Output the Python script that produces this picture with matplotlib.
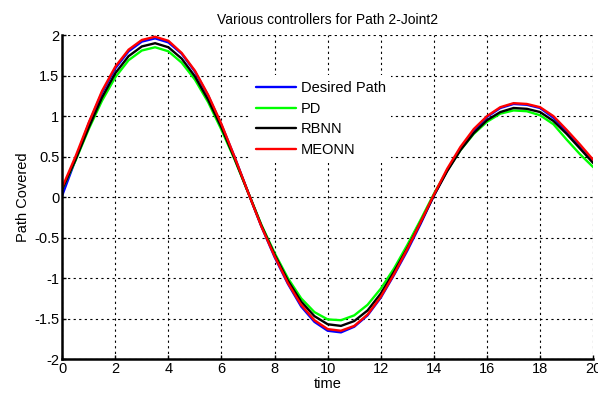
import numpy as np
import matplotlib.pyplot as plt

plt.rcParams['font.family'] = ['Liberation Sans', 'DejaVu Sans']

# time samples (s)
t = np.arange(0, 20.5, 0.5)

desired = [0.02, 0.46, 0.91, 1.29, 1.59, 1.80, 1.92, 1.96, 1.91, 1.77,
           1.55, 1.25, 0.89, 0.49, 0.06, -0.36, -0.74, -1.07, -1.35, -1.54,
           -1.65, -1.67, -1.60, -1.46, -1.24, -0.96, -0.66, -0.33, 0.02, 0.33,
           0.60, 0.82, 0.99, 1.10, 1.15, 1.14, 1.10, 0.98, 0.81, 0.63, 0.44]

pd_ctrl = [0.10, 0.45, 0.84, 1.19, 1.48, 1.69, 1.81, 1.85, 1.80, 1.66,
           1.45, 1.17, 0.83, 0.46, 0.06, -0.34, -0.69, -1.00, -1.25, -1.42,
           -1.51, -1.52, -1.46, -1.33, -1.13, -0.88, -0.59, -0.28, 0.04, 0.33,
           0.58, 0.78, 0.93, 1.03, 1.07, 1.06, 1.01, 0.90, 0.71, 0.53, 0.37]

rbnn = [0.10, 0.46, 0.86, 1.23, 1.53, 1.74, 1.86, 1.90, 1.85, 1.71,
        1.49, 1.20, 0.86, 0.47, 0.06, -0.35, -0.71, -1.03, -1.29, -1.47,
        -1.57, -1.59, -1.53, -1.40, -1.19, -0.92, -0.63, -0.31, 0.02, 0.32,
        0.58, 0.79, 0.95, 1.05, 1.10, 1.09, 1.05, 0.94, 0.78, 0.60, 0.42]

meonn = [0.12, 0.50, 0.92, 1.31, 1.61, 1.82, 1.94, 1.98, 1.93, 1.78,
         1.56, 1.26, 0.90, 0.49, 0.06, -0.36, -0.73, -1.06, -1.33, -1.52,
         -1.63, -1.65, -1.59, -1.45, -1.23, -0.95, -0.64, -0.31, 0.03, 0.35,
         0.62, 0.84, 1.00, 1.11, 1.16, 1.15, 1.11, 1.00, 0.83, 0.65, 0.46]

fig = plt.figure(figsize=(5.98, 3.99), dpi=100)
ax = fig.add_axes([0.104, 0.100, 0.888, 0.812])

style = dict(lw=1.7, solid_joinstyle='round', solid_capstyle='round')
ax.plot(t, desired, color='blue', label='Desired Path', **style)
ax.plot(t, pd_ctrl, color='#00ff00', label='PD', **style)
ax.plot(t, rbnn, color='black', label='RBNN', **style)
ax.plot(t, meonn, color='red', label='MEONN', **style)

ax.set_xlim(0, 20)
ax.set_ylim(-2, 2)
ax.set_xticks(np.arange(0, 21, 2))
ax.set_yticks(np.arange(-2, 2.1, 0.5))
ax.set_yticklabels(['-2', '-1.5', '-1', '-0.5', '0', '0.5', '1', '1.5', '2'])

ax.grid(True, color='black', linestyle=(0, (2, 3)), linewidth=0.8)
for side in ['top', 'right']:
    ax.spines[side].set_visible(False)
for side in ['left', 'bottom']:
    ax.spines[side].set_linewidth(1.8)
ax.tick_params(direction='in', length=3, width=1, labelsize=10.5, pad=2)

ax.set_title('Various controllers for Path 2-Joint2', fontsize=10, pad=8)
ax.set_xlabel('time', fontsize=10.5, labelpad=1)
ax.set_ylabel('Path Covered', fontsize=10.5, labelpad=3)

leg = ax.legend(loc='upper left', bbox_to_anchor=(243 / 598, 1 - 68 / 399),
                bbox_transform=fig.transFigure, frameon=True, fancybox=False,
                edgecolor='none', facecolor='white', framealpha=1,
                fontsize=10.5, handlelength=2.7, handletextpad=0.35,
                labelspacing=0.45, borderpad=0.4)

fig.savefig('out.png', dpi=100)
